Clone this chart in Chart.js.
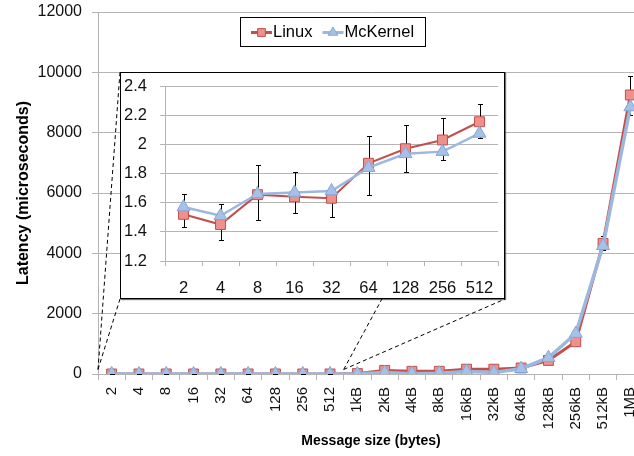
<!DOCTYPE html>
<html>
<head>
<meta charset="utf-8">
<script src="https://cdn.jsdelivr.net/npm/chart.js@4.4.1/dist/chart.umd.min.js"></script>
<style>
  html, body { margin: 0; padding: 0; background: #fff; overflow: hidden; width: 634px; height: 456px; }
  #main { position: absolute; left: 0; top: -18px; }
  #zoomBox { position: absolute; left: 120px; top: 72px; width: 383px; height: 225px; overflow: hidden;
             border: 1px solid #000; box-shadow: 1px 1px 1px rgba(0,0,0,0.55); background: #fff; }
  #zoom { position: absolute; left: 0; top: -17px; }
</style>
</head>
<body>
<canvas id="main" width="674" height="474"></canvas>
<div id="zoomBox"><canvas id="zoom" width="397" height="242"></canvas></div>
<script>
// message sizes
const smallSizes = ['2', '4', '8', '16', '32', '64', '128', '256', '512'];
const largeSizes = ['1kB', '2kB', '4kB', '8kB', '16kB', '32kB', '64kB', '128kB', '256kB', '512kB', '1MB'];

// latency in microseconds, small messages (also shown in the zoom box)
const linuxSmall     = [1.52, 1.45, 1.655, 1.64, 1.63, 1.87, 1.97, 2.03, 2.155];
const mckernelSmall  = [1.57, 1.51, 1.66, 1.67, 1.68, 1.84, 1.935, 1.95, 2.075];
const linuxSmallLow  = [1.435, 1.345, 1.48, 1.53, 1.50, 1.65, 1.81, 1.89, 2.04];
const linuxSmallHigh = [1.66, 1.59, 1.86, 1.81, 1.68, 2.06, 2.13, 2.18, 2.28];

// latency in microseconds, large messages
const linuxLarge     = [15, 120, 90, 90, 160, 160, 200, 450, 1070, 4330, 9250];
const mckernelLarge  = [5, 50, 10, 25, 85, 50, 175, 540, 1340, 4250, 8850];
const linuxLargeLow  = [null, null, null, null, null, null, null, null, null, 4100, 8600];
const linuxLargeHigh = [null, null, null, null, null, null, null, null, null, 4580, 9890];

// axis tick labels
const mainYTicks = ['0', '2000', '4000', '6000', '8000', '10000', '12000'];
const zoomYTicks = ['1.2', '1.4', '1.6', '1.8', '2', '2.2', '2.4'];

const gridColor = '#b4b4b4';
const linuxLine = '#c0504d', linuxFill = '#ee908b';
const mckLine = '#9db8df', mckFill = '#a6c1e7', mckEdge = '#86a6d6';

// the main canvas sits 18px above the page top (see #main)
const shift = 18;

Chart.defaults.font.family = '"Liberation Sans", Arial, sans-serif';
Chart.defaults.color = '#111';

// black whiskers drawn under the markers
const errorBars = {
  id: 'errorBars',
  beforeDatasetsDraw(chart, args, opts) {
    const {ctx, scales: {x, y}} = chart;
    ctx.save();
    ctx.strokeStyle = '#000';
    ctx.lineWidth = 1;
    opts.low.forEach((lo, i) => {
      const hi = opts.high[i];
      if (lo == null || hi == null) return;
      const px = Math.round(x.getPixelForValue(i)) + 0.5;
      const y1 = Math.round(y.getPixelForValue(lo)) + 0.5;
      const y2 = Math.round(y.getPixelForValue(hi)) + 0.5;
      ctx.beginPath();
      ctx.moveTo(px, y1); ctx.lineTo(px, y2);
      ctx.moveTo(px - 2.5, y1); ctx.lineTo(px + 2.5, y1);
      ctx.moveTo(px - 2.5, y2); ctx.lineTo(px + 2.5, y2);
      ctx.stroke();
    });
    ctx.restore();
  }
};

// dashed guides from the small-message range up to the zoom box
const zoomLines = {
  id: 'zoomLines',
  afterDatasetsDraw(chart, args, opts) {
    const {ctx, scales: {x, y}} = chart;
    const half = (x.getPixelForValue(1) - x.getPixelForValue(0)) / 2;
    const x0 = x.getPixelForValue(0) - half;
    const x1 = x.getPixelForValue(smallSizes.length - 1) + half;
    const yb = y.getPixelForValue(opts.baseValue);
    const b = opts.box;
    ctx.save();
    ctx.strokeStyle = '#000';
    ctx.lineWidth = 1;
    ctx.setLineDash([4, 3]);
    ctx.beginPath();
    ctx.moveTo(x0, yb); ctx.lineTo(b.left, b.top);
    ctx.moveTo(x0, yb); ctx.lineTo(b.left, b.bottom);
    ctx.moveTo(x1, yb); ctx.lineTo(b.right, b.bottom);
    ctx.moveTo(x1, yb); ctx.lineTo(b.right, b.top);
    ctx.stroke();
    ctx.restore();
  }
};

// framed legend inside the plot
const boxLegend = {
  id: 'boxLegend',
  afterDraw(chart, args, opts) {
    const ctx = chart.ctx;
    ctx.save();
    ctx.fillStyle = '#fff';
    ctx.fillRect(opts.x, opts.y, opts.w, opts.h);
    ctx.strokeStyle = '#000';
    ctx.lineWidth = 1;
    ctx.strokeRect(opts.x + 0.5, opts.y + 0.5, opts.w, opts.h);
    const cy = opts.y + opts.h / 2 + 1;
    let cx = opts.x + 11;
    ctx.font = '16.5px "Liberation Sans", Arial, sans-serif';
    ctx.textBaseline = 'middle';
    chart.data.datasets.forEach(ds => {
      ctx.strokeStyle = ds.borderColor;
      ctx.lineWidth = 3;
      ctx.beginPath();
      ctx.moveTo(cx, cy); ctx.lineTo(cx + 21, cy);
      ctx.stroke();
      ctx.fillStyle = ds.pointBackgroundColor;
      ctx.strokeStyle = ds.pointBorderColor;
      ctx.lineWidth = 1;
      Chart.helpers.drawPoint(ctx, {pointStyle: ds.pointStyle, radius: 5.5, rotation: 0, borderWidth: 1}, cx + 10.5, cy);
      ctx.fillStyle = '#000';
      ctx.fillText(ds.label, cx + 22, cy);
      cx += 22 + ctx.measureText(ds.label).width + 10;
    });
    ctx.restore();
  }
};

function series(label, data, big) {
  const isLinux = label === 'Linux';
  return {
    label: label,
    data: data,
    borderColor: isLinux ? linuxLine : mckLine,
    borderWidth: isLinux ? (big ? 3 : 2) : (big ? 3.5 : 2.5),
    pointStyle: isLinux ? 'rect' : 'triangle',
    pointRadius: isLinux ? 7 : 7.5,
    pointBackgroundColor: isLinux ? linuxFill : mckFill,
    pointBorderColor: isLinux ? linuxLine : mckEdge,
    pointBorderWidth: 1,
    tension: 0,
    order: isLinux ? 1 : 0
  };
}

function fixedTicks(labels) {
  return scale => { scale.ticks = labels.map(s => ({value: Number(s)})); };
}

// full range
new Chart(document.getElementById('main'), {
  type: 'line',
  data: {
    labels: smallSizes.concat(largeSizes),
    datasets: [
      series('Linux', linuxSmall.concat(linuxLarge), true),
      series('McKernel', mckernelSmall.concat(mckernelLarge), true)
    ]
  },
  options: {
    responsive: false,
    animation: false,
    layout: {padding: {top: 30, right: 30, left: 0, bottom: 0}},
    plugins: {
      legend: {display: false},
      tooltip: {enabled: false},
      errorBars: {low: linuxSmallLow.concat(linuxLargeLow), high: linuxSmallHigh.concat(linuxLargeHigh)},
      zoomLines: {baseValue: 150, box: {left: 120, top: 72 + shift, right: 505, bottom: 299 + shift}},
      boxLegend: {x: 240, y: 17 + shift, w: 185, h: 29}
    },
    scales: {
      x: {
        offset: true,
        grid: {offset: true, drawOnChartArea: false, tickLength: 6, color: gridColor},
        border: {color: gridColor},
        ticks: {minRotation: 90, maxRotation: 90, autoSkip: false, padding: 7, font: {size: 15}},
        title: {display: true, text: 'Message size (bytes)', font: {size: 14, weight: 'bold'}, padding: {top: 0, bottom: 6}, color: '#000'},
        afterFit: s => { s.height = 82; }
      },
      y: {
        min: 0, max: 12000,
        afterBuildTicks: fixedTicks(mainYTicks),
        ticks: {callback: (v, i) => mainYTicks[i], padding: 10, font: {size: 16}},
        grid: {color: gridColor, tickLength: 6},
        border: {color: gridColor},
        title: {display: true, text: 'Latency (microseconds)', font: {size: 16, weight: 'bold'}, padding: {top: 14, bottom: 0}, color: '#000'},
        afterFit: s => { s.width = 98; }
      }
    }
  },
  plugins: [errorBars, zoomLines, boxLegend]
});

// zoom on 2..512 bytes
new Chart(document.getElementById('zoom'), {
  type: 'line',
  data: {
    labels: smallSizes,
    datasets: [
      series('Linux', linuxSmall, false),
      series('McKernel', mckernelSmall, false)
    ]
  },
  options: {
    responsive: false,
    animation: false,
    layout: {padding: {top: 30, right: 20, left: 0, bottom: 0}},
    plugins: {
      legend: {display: false},
      tooltip: {enabled: false},
      errorBars: {low: linuxSmallLow, high: linuxSmallHigh}
    },
    scales: {
      x: {
        offset: true,
        grid: {offset: true, drawOnChartArea: false, tickLength: 5, color: gridColor},
        border: {color: gridColor},
        ticks: {maxRotation: 0, autoSkip: false, padding: 13, font: {size: 16.5}},
        afterFit: s => { s.height = 37; }
      },
      y: {
        min: 1.2, max: 2.4,
        afterBuildTicks: fixedTicks(zoomYTicks),
        ticks: {callback: (v, i) => zoomYTicks[i], padding: 13, font: {size: 16.5}},
        grid: {color: gridColor, tickLength: 5},
        border: {color: gridColor},
        afterFit: s => { s.width = 44; }
      }
    }
  },
  plugins: [errorBars]
});
</script>
</body>
</html>
